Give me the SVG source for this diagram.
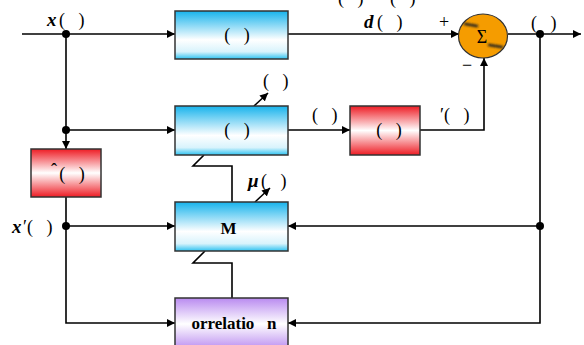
<svg xmlns="http://www.w3.org/2000/svg" width="584" height="345" viewBox="0 0 584 345" xml:space="preserve">
  <style>
    text { white-space: pre; }
    .box { stroke: #333; stroke-width: 1.5; }
    .wire { fill: none; stroke: #000; stroke-width: 1.6; }
    .dot { fill: #000; }
    .t { font-family: "Liberation Serif", "Times New Roman", serif; font-size: 18px; fill: #000; }
    .tb { font-family: "Liberation Serif", "Times New Roman", serif; font-size: 17px; font-weight: bold; fill: #000; }
    .ti { font-family: "Liberation Serif", "Times New Roman", serif; font-size: 19px; font-style: italic; font-weight: bold; fill: #000; }
  </style>
  <defs>
    <linearGradient id="blueFill" x1="0" y1="0" x2="0" y2="1">
      <stop offset="0" stop-color="#17B3EC"/>
      <stop offset="0.6" stop-color="#FFFFFF"/>
      <stop offset="0.85" stop-color="#D8F3FC"/>
      <stop offset="1" stop-color="#2DC2F1"/>
    </linearGradient>
    <linearGradient id="redFill" x1="0" y1="0" x2="0" y2="1">
      <stop offset="0" stop-color="#EE1C24"/>
      <stop offset="0.5" stop-color="#FFFFFF"/>
      <stop offset="1" stop-color="#EE1C24"/>
    </linearGradient>
    <linearGradient id="purpleFill" x1="0" y1="0" x2="0" y2="1">
      <stop offset="0" stop-color="#B98AF0"/>
      <stop offset="0.5" stop-color="#FFFFFF"/>
      <stop offset="1" stop-color="#B98AF0"/>
    </linearGradient>
    <filter id="smear" x="-50%" y="-200%" width="200%" height="500%">
      <feGaussianBlur stdDeviation="0.9"/>
    </filter>
    <marker id="arr" viewBox="0 0 10 10" refX="10" refY="5" markerWidth="8" markerHeight="8" markerUnits="userSpaceOnUse" orient="auto">
      <path d="M0,0 L10,5 L0,10 z" fill="#000"/>
    </marker>
  </defs>

  <!-- connectors -->
  <g id="connectors">
    <!-- input x(n) to the unknown system -->
    <path class="wire" d="M22,34 H175" marker-end="url(#arr)"/>
    <!-- d(n) into the summer -->
    <path class="wire" d="M288,34 H459" marker-end="url(#arr)"/>
    <!-- error output -->
    <path class="wire" d="M508,34 H581" marker-end="url(#arr)"/>
    <!-- x(n) branch down -->
    <path class="wire" d="M66,34 V149" marker-end="url(#arr)"/>
    <path class="wire" d="M66,130 H175" marker-end="url(#arr)"/>
    <!-- adaptive filter to secondary path -->
    <path class="wire" d="M288,130 H350" marker-end="url(#arr)"/>
    <!-- secondary path output back to the summer -->
    <path class="wire" d="M420,130 H484 V58" marker-end="url(#arr)"/>
    <!-- filtered reference x'(n) -->
    <path class="wire" d="M66,197 V323 H175" marker-end="url(#arr)"/>
    <path class="wire" d="M66,226 H175" marker-end="url(#arr)"/>
    <!-- error feedback -->
    <path class="wire" d="M540,34 V323 H288" marker-end="url(#arr)"/>
    <path class="wire" d="M540,226 H288" marker-end="url(#arr)"/>
    <!-- coefficient links -->
    <path class="wire" d="M204,155 L193,166 H232 V202"/>
    <path class="wire" d="M205,251 L193,263 H232 V298"/>
    <!-- adjustment arrows -->
    <path class="wire" d="M254,106 L268,93" marker-end="url(#arr)"/>
    <path class="wire" d="M255,202 L270,188" marker-end="url(#arr)"/>
    <!-- junctions -->
    <circle class="dot" cx="66" cy="34" r="4"/>
    <circle class="dot" cx="66" cy="130" r="4"/>
    <circle class="dot" cx="66" cy="226" r="4"/>
    <circle class="dot" cx="540" cy="34" r="4"/>
    <circle class="dot" cx="540" cy="226" r="4"/>
  </g>

  <!-- signal labels -->
  <g id="labels">
    <text class="t" x="338" y="4">(   )</text>
    <text class="t" x="390" y="4">(   )</text>
    <text class="ti" x="47" y="26">x</text>
    <text class="t" x="59" y="26">(   )</text>
    <text class="ti" x="364" y="28">d</text>
    <text class="t" x="377" y="28">(   )</text>
    <text class="t" x="439" y="28" font-size="19">+</text>
    <text class="t" x="462" y="71" font-size="19">−</text>
    <text class="t" x="531" y="29">(   )</text>
    <text class="t" x="263" y="87">(   )</text>
    <text class="t" x="312" y="121">(   )</text>
    <text class="t" x="440" y="121">′(   )</text>
    <text class="ti" x="248" y="187">μ</text>
    <text class="t" x="261" y="187">(   )</text>
    <text class="ti" x="12" y="233">x</text>
    <text class="t" x="23" y="233">′(   )</text>
  </g>

  <g id="unknown-plant">
    <rect class="box" x="175" y="11" width="113" height="48" fill="url(#blueFill)"/>
    <text class="t" x="237" y="41" text-anchor="middle">(   )</text>
  </g>

  <g id="summer">
    <ellipse cx="483" cy="36" rx="24.5" ry="22" fill="#F59C00" stroke="#333" stroke-width="1.2"/>
    <path d="M465,24 L477,26" stroke="#222" stroke-width="2.4" stroke-linecap="round" filter="url(#smear)"/>
    <path d="M489,45 L502,47" stroke="#222" stroke-width="2.4" stroke-linecap="round" filter="url(#smear)"/>
    <text class="t" x="482" y="43" text-anchor="middle" font-size="22">Σ</text>
  </g>

  <g id="adaptive-filter">
    <rect class="box" x="175" y="106" width="113" height="49" fill="url(#blueFill)"/>
    <text class="t" x="237" y="136" text-anchor="middle">(   )</text>
  </g>

  <g id="secondary-path">
    <rect class="box" x="350" y="106" width="70" height="49" fill="url(#redFill)"/>
    <text class="t" x="389" y="136" text-anchor="middle">(   )</text>
  </g>

  <g id="secondary-path-estimate">
    <rect class="box" x="31" y="149" width="70" height="48" fill="url(#redFill)"/>
    <text class="t" x="51" y="176">ˆ</text>
    <text class="t" x="72" y="180" text-anchor="middle">(   )</text>
  </g>

  <g id="lms-block">
    <rect class="box" x="175" y="202" width="113" height="49" fill="url(#blueFill)"/>
    <text class="tb" x="228.5" y="234" text-anchor="middle" font-size="19">M</text>
  </g>

  <g id="correlation-block">
    <rect class="box" x="175" y="298" width="113" height="52" fill="url(#purpleFill)"/>
    <text class="tb" x="234" y="329" text-anchor="middle">orrelatio   n</text>
  </g>
</svg>
